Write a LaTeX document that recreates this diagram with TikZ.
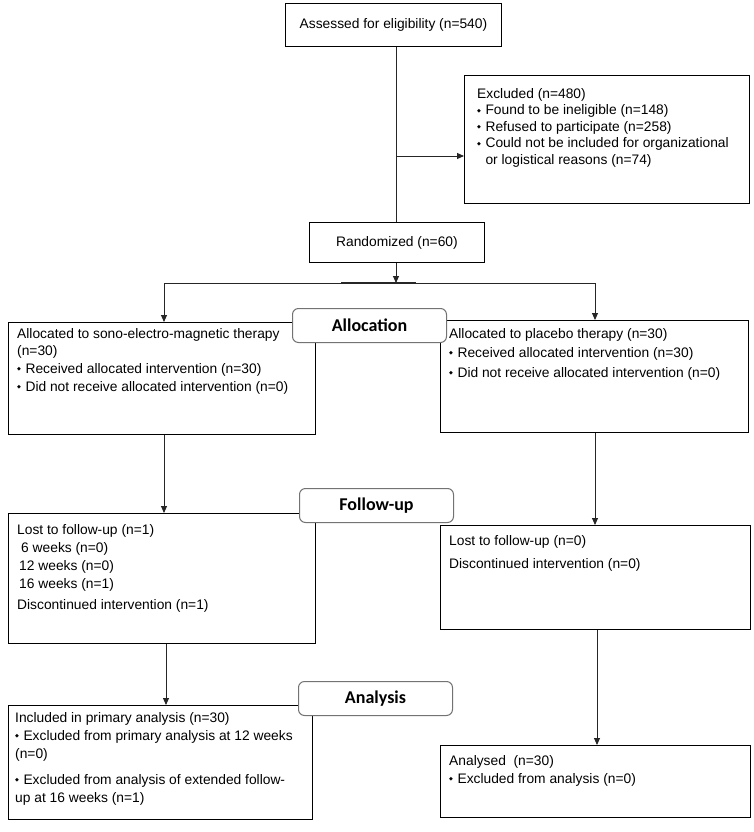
\documentclass[tikz,border=0pt]{standalone}
\usepackage{fontspec}
\setmainfont{Liberation Sans}
\newfontfamily\labfont{Carlito}
\newfontfamily\djv{DejaVu Sans}
\usetikzlibrary{arrows.meta,calc}
\newcommand\bul{\raisebox{0.35ex}{\djv\fontsize{5}{5}\selectfont ◆}\hspace{4.5pt}}
\newlength\bulw
\settowidth\bulw{\fontsize{13.8}{17}\selectfont\bul}
\begin{document}
\begin{tikzpicture}[x=1pt,y=-1pt,
  box/.style={draw=black, line width=0.9pt, fill=white, anchor=north west, inner sep=0pt},
  tx/.style={anchor=north west, align=left, inner sep=0pt, font=\fontsize{13.8}{18}\selectfont},
  ctx/.style={font=\fontsize{13.8}{18}\selectfont},
  stage/.style={draw=black!55, line width=1pt, rounded corners=6pt, fill=white, anchor=north west,
    minimum width=154pt, minimum height=34pt, inner sep=0pt, font=\labfont\bfseries\fontsize{18}{18}\selectfont},
  arr/.style={-{Triangle[length=7pt,width=6pt]}, line width=0.9pt, draw=black!85},
  ln/.style={line width=0.9pt, draw=black!85}]
\useasboundingbox (0,0) rectangle (754,832);
\fill[white] (0,0) rectangle (754,832);

% boxes
\node[box, minimum width=216pt, minimum height=43pt, ctx] (assess) at (285,3) {Assessed for eligibility (n=540)};
\node[box, minimum width=285pt, minimum height=128pt] (excl) at (464,75) {};
\node[box, minimum width=175pt, minimum height=40pt, ctx] (rand) at (309,222) {Randomized (n=60)};

\node[box, minimum width=307pt, minimum height=112pt] (allocL) at (8,322) {};
\node[box, minimum width=308pt, minimum height=112pt] (allocR) at (440,320) {};
\node[box, minimum width=307pt, minimum height=130pt] (fuL) at (8,513) {};
\node[box, minimum width=310pt, minimum height=104pt] (fuR) at (440,525) {};
\node[box, minimum width=304pt, minimum height=114pt] (anL) at (8,705) {};
\node[box, minimum width=310pt, minimum height=72pt] (anR) at (440,745) {};

% texts
\node[tx, font=\fontsize{13.8}{16.5}\selectfont] (exclT) at ($(excl.north west)+(13,13)$) {Excluded (n=480)\\
 \bul Found to be ineligible (n=148)\\
 \bul Refused to participate (n=258)\\
 \bul Could not be included for organizational\\
 \hspace*{\bulw}or logistical reasons (n=74)};
\node[tx] (allocLT) at ($(allocL.north west)+(9,6)$) {Allocated to sono-electro-magnetic therapy\\[-1pt]
 (n=30)\\
 \bul Received allocated intervention (n=30)\\
 \bul Did not receive allocated intervention (n=0)};
\node[tx] (allocRT) at ($(allocR.north west)+(9,8)$) {Allocated to placebo therapy (n=30)\\[1pt]
 \bul Received allocated intervention (n=30)\\[2pt]
 \bul Did not receive allocated intervention (n=0)};
\node[tx] (fuLT) at ($(fuL.north west)+(9,11)$) {Lost to follow-up (n=1)\\
 \hspace*{4pt}6 weeks (n=0)\\
 \hspace*{2pt}12 weeks (n=0)\\
 \hspace*{2pt}16 weeks (n=1)\\[3pt]
 Discontinued intervention (n=1)};
\node[tx] (fuRT) at ($(fuR.north west)+(9,10)$) {Lost to follow-up (n=0)\\[5pt]
 Discontinued intervention (n=0)};
\node[tx] (anLT) at ($(anL.north west)+(7,7)$) {Included in primary analysis (n=30)\\
 \bul Excluded from primary analysis at 12 weeks\\
 (n=0)\\[8pt]
 \bul Excluded from analysis of extended follow-\\
 up at 16 weeks (n=1)};
\node[tx] (anRT) at ($(anR.north west)+(9,10)$) {Analysed\ \ (n=30)\\
 \bul Excluded from analysis (n=0)};

% connectors
\coordinate (trunk) at (396,0);
\coordinate (br) at (396,156);
\coordinate (split) at (396,283);
\coordinate (sl) at (164,283);
\coordinate (sr) at (595,283);
\draw[ln] (assess.south -| trunk) -- (rand.north -| trunk);
\draw[arr] (br) -- (excl.west |- br);
\draw[arr] (rand.south -| trunk) -- (split);
\draw[ln] (sl) -- (sr);
\draw[line width=2pt, black!85] ($(split)+(-55,0)$) -- ($(split)+(20,0)$);
\draw[arr] (sl) -- (allocL.north -| sl);
\draw[arr] (sr) -- (allocR.north -| sr);
\draw[arr] (allocL.south -| sl) -- (fuL.north -| sl);
\draw[arr] (allocR.south -| sr) -- (fuR.north -| sr);
\coordinate (cl) at (166,0);
\coordinate (cr) at (597,0);
\draw[arr] (fuL.south -| cl) -- (anL.north -| cl);
\draw[arr] (fuR.south -| cr) -- (anR.north -| cr);

% stage labels
\node[stage] (allocS) at (292,308) {Allocation};
\node[stage] (fuS) at (299,488) {Follow-up};
\node[stage] (anS) at (298,681) {Analysis};
\end{tikzpicture}
\end{document}
